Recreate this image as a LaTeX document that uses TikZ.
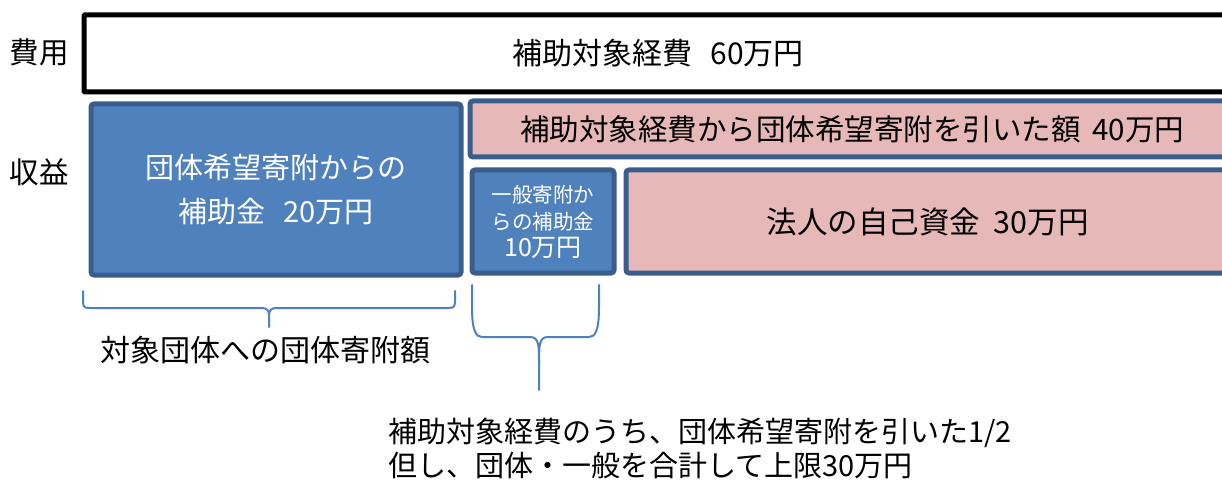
\documentclass[tikz,border=0pt]{standalone}
\usepackage{fontspec}
\setmainfont{Noto Sans CJK JP}
\definecolor{bfill}{RGB}{79,129,189}
\definecolor{bline}{RGB}{58,94,140}
\definecolor{pfill}{RGB}{230,184,183}
\definecolor{brc}{RGB}{79,129,189}
\tikzset{
  box/.style={draw, rounded corners=3pt, inner sep=0pt, line width=5pt, anchor=north west, align=center},
  costbox/.style={box, draw=black, fill=white, rounded corners=1pt},
  bluebox/.style={box, draw=bline, fill=bfill, text=white},
  pinkbox/.style={box, draw=bline, fill=pfill, text=black},
  lbl/.style={inner sep=0pt, font=\fontsize{29.5}{34}\selectfont},
  brace/.style={draw=brc, line width=2pt, line cap=round, line join=round}
}
\begin{document}
\begin{tikzpicture}[x=1pt,y=-1pt]
\useasboundingbox (0,0) rectangle (1222,481);
\clip (0,0) rectangle (1222,481);
\node[costbox, minimum width=1148.5pt, minimum height=77pt, font=\fontsize{30}{36}\selectfont] (cost) at (81.5,12.5) {補助対象経費\hspace{0.6em}60万円};
\node[lbl] (hiyo) at (39,52) {費用};
\node[lbl] (shueki) at (39,172) {収益};
\node[bluebox, minimum width=370pt, minimum height=171pt, font=\fontsize{29}{44}\selectfont] (dan) at (88.5,101.5) {団体希望寄附からの\\補助金\hspace{0.6em}20万円};
\node[pinkbox, minimum width=764.5pt, minimum height=56pt, font=\fontsize{29.5}{35}\selectfont] (diff) at (467.5,98.5) {補助対象経費から団体希望寄附を引いた額\hspace{0.4em}40万円};
\node[bluebox, minimum width=142pt, minimum height=103pt, font=\fontsize{20.5}{27}\selectfont] (ippan) at (469.5,167.5) {一般寄附か\\[0pt]らの補助金\\[0pt]{\fontsize{25}{27}\selectfont 10万円}};
\node[pinkbox, minimum width=603.5pt, minimum height=103pt, font=\fontsize{30.5}{36}\selectfont] (own) at (623.5,167.5) {法人の自己資金\hspace{0.45em}30万円};
% brace 1
\coordinate (b1l) at (83,291);
\coordinate (b1r) at (455,291);
\coordinate (b1t) at (269,327);
\draw[brace] (b1l) -- ++(0,11) .. controls +(0,6) and +(-4,0) .. (90,308) -- (262,308) .. controls +(5,0) and +(0,-4) .. (b1t |- 0,315) -- (b1t);
\draw[brace] (b1r) -- ++(0,11) .. controls +(0,6) and +(4,0) .. (448,308) -- (276,308) .. controls +(-5,0) and +(0,-4) .. (b1t |- 0,315);
% brace 2
\coordinate (b2l) at (472,285);
\coordinate (b2r) at (599,285);
\coordinate (b2t) at (539,390);
\draw[brace] (b2l) -- ++(0,22) .. controls +(0,24) and +(-6,0) .. (482,337) -- (530,337) .. controls +(9,0) and +(0,-20) .. (b2t |- 0,365) -- (b2t);
\draw[brace] (b2r) -- ++(0,22) .. controls +(0,24) and +(6,0) .. (589,337) -- (548,337) .. controls +(-9,0) and +(0,-20) .. (b2t |- 0,365);
\node[lbl, font=\fontsize{30}{34}\selectfont] (note1) at (265,350) {対象団体への団体寄附額};
\node[lbl, anchor=west, font=\fontsize{29}{34}\selectfont] (note2a) at (388,433) {補助対象経費のうち、団体希望寄附を引いた1/2};
\node[lbl, anchor=west, font=\fontsize{29}{34}\selectfont] (note2b) at (388,466) {但し、団体・一般を合計して上限30万円};
\end{tikzpicture}
\end{document}
